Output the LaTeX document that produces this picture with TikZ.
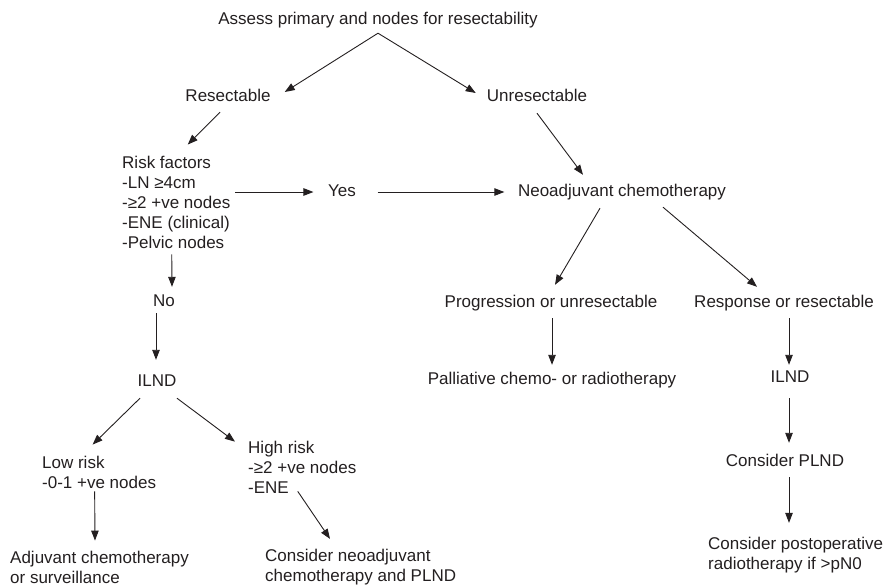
\documentclass[tikz,border=0pt]{standalone}
\usepackage{fontspec}
\setmainfont{Liberation Sans}
\usetikzlibrary{arrows.meta}
\definecolor{ink}{RGB}{35,31,32}

\begin{document}
\begin{tikzpicture}[
    x=1pt, y=-1pt,
    txt/.style={inner sep=0pt, text=ink, font=\fontsize{17}{20}\selectfont, text height=12.5pt, text depth=3.5pt},
    blk/.style={inner sep=0pt, text=ink, font=\fontsize{17}{20}\selectfont, align=left, anchor=west},
    arrow/.style={-{Triangle[length=10pt,width=7.5pt]}, line width=0.9pt, draw=ink}
]
    \useasboundingbox (0,0) rectangle (890,586);

    % Top of the tree
    \node[txt] (title) at (378,20) {Assess primary and nodes for resectability};
    \node[txt] (resect) at (228,97) {Resectable};
    \node[txt] (unresect) at (537,97) {Unresectable};

    % Resectable branch
    \node[blk] (risk) at (122,202) {Risk factors\\-LN ≥4cm\\-≥2 +ve nodes\\-ENE (clinical)\\-Pelvic nodes};
    \node[txt] (yes) at (342,192) {Yes};
    \node[txt] (no) at (164,302) {No};
    \node[txt] (ilndL) at (157,382) {ILND};
    \node[blk] (low) at (42,472) {Low risk\\-0-1 +ve nodes};
    \node[blk] (high) at (248,467) {High risk\\-≥2 +ve nodes\\-ENE};
    \node[blk] (adj) at (10,567) {Adjuvant chemotherapy\\or surveillance};
    \node[blk] (cons) at (265,567) {Consider neoadjuvant\\chemotherapy and PLND};

    % Neoadjuvant branch
    \node[txt] (neo) at (622,192) {Neoadjuvant chemotherapy};
    \node[txt] (prog) at (551,303) {Progression or unresectable};
    \node[txt] (pall) at (552,380) {Palliative chemo- or radiotherapy};
    \node[txt] (resp) at (784,303) {Response or resectable};
    \node[txt] (ilndR) at (790,378) {ILND};
    \node[txt] (plnd) at (785,462) {Consider PLND};
    \node[blk] (post) at (708,555) {Consider postoperative\\radiotherapy if >pN0};

    % Arrows
    \draw[arrow] ([shift={(0,5)}]title.south) -- ([shift={(14,-5)}]resect.east);
    \draw[arrow] ([shift={(0,5)}]title.south) -- ([shift={(-11,-4)}]unresect.west);
    \draw[arrow] ([shift={(-8,7)}]resect.south) -- ([shift={(11.5,-11)}]risk.north);
    \draw[arrow] ([shift={(0,8)}]unresect.south) -- ([shift={(-39,-9)}]neo.north);
    \draw[arrow] ([shift={(5,-10)}]risk.east) -- ([shift={(-14.5,0)}]yes.west);
    \draw[arrow] ([shift={(21.5,0)}]yes.east) -- ([shift={(-13.5,0)}]neo.west);
    \draw[arrow] ([shift={(-4.5,6)}]risk.south) -- ([shift={(8,-7)}]no.north);
    \draw[arrow] ([shift={(-8,3)}]no.south) -- ([shift={(-1,-14)}]ilndL.north);
    \draw[arrow] ([shift={(-17,8)}]ilndL.south) -- ([shift={(-6.5,-11)}]low.north);
    \draw[arrow] ([shift={(20,8)}]ilndL.south) -- ([shift={(-13,1)}]high.north west);
    \draw[arrow] ([shift={(-4.5,3)}]low.south) -- ([shift={(85,-10)}]adj.north west);
    \draw[arrow] ([shift={(-4.5,-2)}]high.south) -- ([shift={(65,-10)}]cons.north west);
    \draw[arrow] ([shift={(-22,8)}]neo.south) -- ([shift={(4,-10)}]prog.north);
    \draw[arrow] ([shift={(41,7)}]neo.south) -- ([shift={(-27,-8)}]resp.north);
    \draw[arrow] ([shift={(1,7)}]prog.south) -- ([shift={(0,-7)}]pall.north);
    \draw[arrow] ([shift={(5,7)}]resp.south) -- ([shift={(-1,-5)}]ilndR.north);
    \draw[arrow] ([shift={(-1,12)}]ilndR.south) -- ([shift={(4,-11)}]plnd.north);
    \draw[arrow] ([shift={(4,7)}]plnd.south) -- ([shift={(81,-14)}]post.north west);
\end{tikzpicture}
\end{document}
